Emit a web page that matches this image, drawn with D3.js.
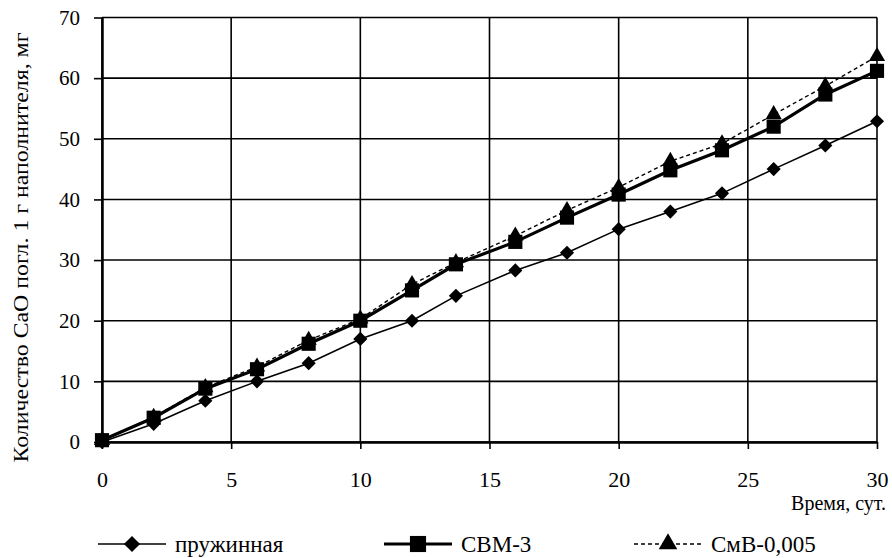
<!DOCTYPE html>
<html>
<head>
<meta charset="utf-8">
<script src="https://d3js.org/d3.v7.min.js"></script>
<style>
    body { margin: 0; background: #fff; }
    svg text { font-family: "Times New Roman", "Liberation Serif", "DejaVu Serif", serif !important; fill: #000; }
</style>
</head>
<body>
<div id="chart"></div>
<script>

    // data
    var days = [0, 2, 4, 6, 8, 10, 12, 13.7, 16, 18, 20, 22, 24, 26, 28, 30];
    var springVals = [0, 3, 6.8, 10, 13, 17, 20, 24.1, 28.3, 31.2, 35.1, 38, 41, 45, 48.9, 52.9];
    var svm3Vals = [0.3, 4, 8.8, 12, 16.2, 20, 25, 29.3, 33, 37, 40.8, 44.8, 48.1, 52, 57.3, 61.2];
    var smvVals = [0.3, 4.1, 9, 12.4, 16.8, 20.3, 26, 29.6, 34, 38.2, 42, 46.3, 49.2, 54, 58.7, 63.6];
    var seriesNames = ["пружинная", "СВМ-3", "СмВ-0,005"];
    var xTicks = [0, 5, 10, 15, 20, 25, 30];
    var yTicks = [0, 10, 20, 30, 40, 50, 60, 70];

    var W = 892, H = 558;
    var margin = { top: 17.5, right: 15, bottom: 116, left: 102 };
    var width = W - margin.left - margin.right,
        height = H - margin.top - margin.bottom;

    var svg = d3.select("#chart").append("svg")
        .attr("width", W).attr("height", H);
    var g = svg.append("g")
        .attr("transform", "translate(" + margin.left + "," + margin.top + ")");

    var x = d3.scaleLinear().domain([0, 30]).range([0, width]);
    var y = d3.scaleLinear().domain([0, 70]).range([height, 0]);

    // grid
    g.selectAll(".hgrid").data(yTicks).enter().append("line")
        .attr("x1", 0).attr("x2", width)
        .attr("y1", function (d) { return y(d); }).attr("y2", function (d) { return y(d); })
        .attr("stroke", "#000").attr("stroke-width", 1.6);
    g.selectAll(".vgrid").data(xTicks).enter().append("line")
        .attr("y1", 0).attr("y2", height)
        .attr("x1", function (d) { return x(d); }).attr("x2", function (d) { return x(d); })
        .attr("stroke", "#000").attr("stroke-width", 1.6);

    // axes
    var xAxis = g.append("g")
        .attr("transform", "translate(0," + height + ")")
        .call(d3.axisBottom(x).tickValues(xTicks).tickSize(7).tickPadding(22).tickSizeOuter(0));
    var yAxis = g.append("g")
        .call(d3.axisLeft(y).tickValues(yTicks).tickSize(8).tickPadding(14).tickSizeOuter(0));
    [xAxis, yAxis].forEach(function (a) {
        a.attr("font-family", null);
        a.select(".domain").attr("stroke", "#000").attr("stroke-width", 2.5);
        a.selectAll(".tick line").attr("stroke", "#000").attr("stroke-width", 1.6);
        a.selectAll(".tick text").attr("fill", "#000");
    });
    xAxis.attr("font-size", 22);
    yAxis.attr("font-size", 21);

    // series
    var diamond = { draw: function (ctx, size) {
        var r = Math.sqrt(size / 2);
        ctx.moveTo(0, -r); ctx.lineTo(r, 0); ctx.lineTo(0, r); ctx.lineTo(-r, 0); ctx.closePath();
    } };
    var series = [
        { name: seriesNames[0], vals: springVals, w: 1.6, dash: null, sym: diamond, size: 100 },
        { name: seriesNames[1], vals: svm3Vals, w: 3.2, dash: null, sym: d3.symbolSquare, size: 200 },
        { name: seriesNames[2], vals: smvVals, w: 1.4, dash: "4,3", sym: d3.symbolTriangle, size: 115 }
    ];

    var line = d3.line()
        .x(function (d) { return x(d[0]); })
        .y(function (d) { return y(d[1]); });

    series.forEach(function (s) {
        var pts = days.map(function (d, i) { return [d, s.vals[i]]; });
        g.append("path").datum(pts)
            .attr("d", line)
            .attr("fill", "none").attr("stroke", "#000")
            .attr("stroke-width", s.w)
            .attr("stroke-dasharray", s.dash);
        g.selectAll(null).data(pts).enter().append("path")
            .attr("d", d3.symbol().type(s.sym).size(s.size))
            .attr("transform", function (d) { return "translate(" + x(d[0]) + "," + y(d[1]) + ")"; })
            .attr("fill", "#000");
    });

    // axis titles
    svg.append("text")
        .attr("transform", "translate(28,247.5) rotate(-90)")
        .attr("text-anchor", "middle")
        .attr("textLength", 430)
        .attr("lengthAdjust", "spacingAndGlyphs")
        .style("font-size", "22px")
        .text("Количество СаО погл. 1 г наполнителя, мг");
    svg.append("text")
        .attr("x", 886).attr("y", 510)
        .attr("text-anchor", "end")
        .style("font-size", "20px")
        .text("Время, сут.");

    // legend
    var legX = [98, 384, 634];
    var legY = 544;
    series.forEach(function (s, i) {
        var lg = svg.append("g").attr("transform", "translate(" + legX[i] + "," + legY + ")");
        lg.append("line").attr("x1", 0).attr("x2", 68).attr("y1", 0).attr("y2", 0)
            .attr("stroke", "#000").attr("stroke-width", s.w).attr("stroke-dasharray", s.dash);
        lg.append("path").attr("d", d3.symbol().type(s.sym).size(s.size * 1.3))
            .attr("transform", "translate(34,0)").attr("fill", "#000");
        lg.append("text").attr("x", 77).attr("y", 8)
            .style("font-size", "23px").text(s.name);
    });

</script>
</body>
</html>
